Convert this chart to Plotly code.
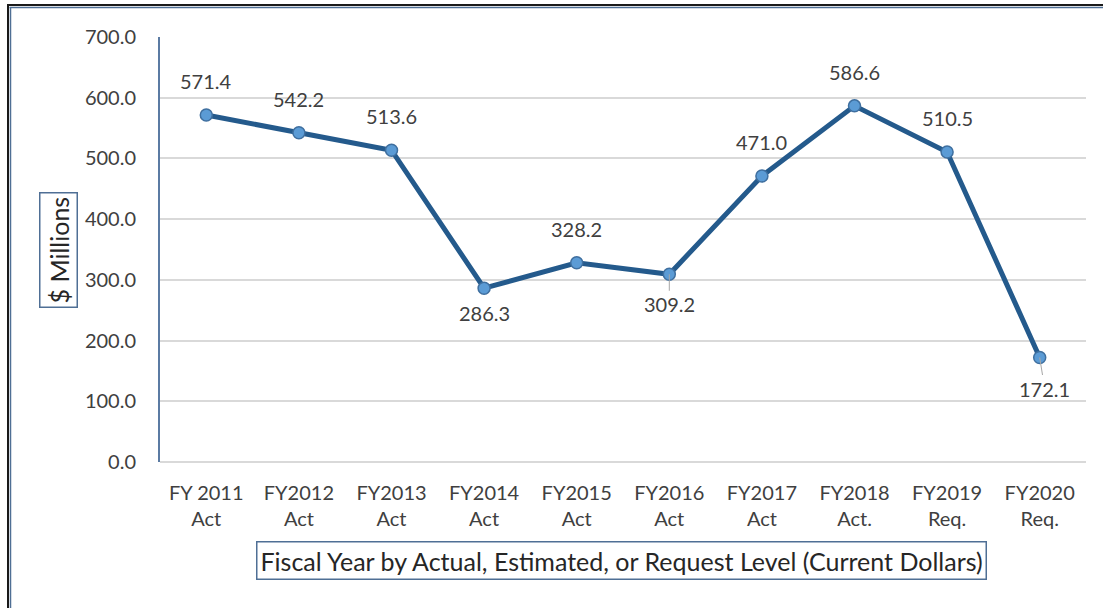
import plotly.graph_objects as go

categories = ["FY 2011<br>Act", "FY2012<br>Act", "FY2013<br>Act", "FY2014<br>Act", "FY2015<br>Act",
              "FY2016<br>Act", "FY2017<br>Act", "FY2018<br>Act.", "FY2019<br>Req.", "FY2020<br>Req."]
values = [571.4, 542.2, 513.6, 286.3, 328.2, 309.2, 471.0, 586.6, 510.5, 172.1]
y_ticks = [0, 100, 200, 300, 400, 500, 600, 700]
y_title = "$ Millions"
x_title = "Fiscal Year by Actual, Estimated, or Request Level (Current Dollars)"

W, H = 1103, 608
ML, MR, MT, MB = 160, 17, 37, 146
PW, PH = W - ML - MR, H - MT - MB

def px_x(p):
    return (p - ML) / PW

def px_y(p):
    return (H - MB - p) / PH

FONT = "Lato, 'Open Sans', sans-serif"
TXT = "#404040"
FS = 20

x_idx = list(range(len(categories)))

fig = go.Figure()
fig.add_trace(go.Scatter(
    x=x_idx, y=values, mode="lines+markers",
    line=dict(color="#245A8C", width=5),
    marker=dict(size=12, color="#5B9BD5", line=dict(color="#3F6F9F", width=1.5)),
    hoverinfo="skip", showlegend=False,
))

# data labels
label_side = ["up", "up", "up", "down", "up", "down", "up", "up", "up", "down"]
for i, (v, s) in enumerate(zip(values, label_side)):
    txt = f"{v:.1f}"
    if i == 5:
        fig.add_annotation(x=i, y=v, text=txt, showarrow=True, arrowhead=0, arrowwidth=1,
                           arrowcolor="#A6A6A6", ax=0, ay=30, standoff=0,
                           font=dict(family=FONT, size=FS, color=TXT))
    elif i == 9:
        fig.add_annotation(x=i, y=v, text=txt, showarrow=True, arrowhead=0, arrowwidth=1,
                           arrowcolor="#A6A6A6", ax=5, ay=31, standoff=0,
                           font=dict(family=FONT, size=FS, color=TXT))
    else:
        fig.add_annotation(x=i, y=v, text=txt, showarrow=False,
                           yshift=34 if s == "up" else -25,
                           font=dict(family=FONT, size=FS, color=TXT))

# axis titles as boxed annotations
fig.add_annotation(xref="paper", yref="paper", x=px_x(58), y=px_y(250), text=y_title,
                   xanchor="center", yanchor="middle",
                   textangle=-90, showarrow=False, bordercolor="#4F6F95", borderwidth=1.5,
                   borderpad=3, bgcolor="white", font=dict(family=FONT, size=25, color="#262626"))
fig.add_annotation(xref="paper", yref="paper", x=px_x(621), y=px_y(560), text=x_title,
                   xanchor="center", yanchor="middle",
                   showarrow=False, bordercolor="#4F6F95", borderwidth=1.5,
                   borderpad=3, bgcolor="white", font=dict(family=FONT, size=25, color="#262626"))

# outer frame (left and top)
fig.add_shape(type="line", xref="paper", yref="paper", x0=px_x(8), x1=px_x(8), y0=px_y(5), y1=px_y(610),
              line=dict(color="#1a1a1a", width=2))
fig.add_shape(type="line", xref="paper", yref="paper", x0=px_x(10.5), x1=px_x(10.5), y0=px_y(7), y1=px_y(610),
              line=dict(color="#4F6F95", width=1.5))
fig.add_shape(type="line", xref="paper", yref="paper", x0=px_x(7), x1=px_x(1110), y0=px_y(5), y1=px_y(5),
              line=dict(color="#1a1a1a", width=2))
fig.add_shape(type="line", xref="paper", yref="paper", x0=px_x(9.5), x1=px_x(1110), y0=px_y(7.5), y1=px_y(7.5),
              line=dict(color="#4F6F95", width=1.5))

fig.update_layout(
    width=W, height=H, autosize=False,
    margin=dict(l=ML, r=MR, t=MT, b=MB),
    paper_bgcolor="white", plot_bgcolor="white",
    font=dict(family=FONT, size=FS, color=TXT),
    xaxis=dict(range=[-0.5, len(categories) - 0.5], tickmode="array", tickvals=x_idx,
               ticktext=categories, showgrid=False, zeroline=False, showline=False,
               ticks="", ticklabelstandoff=17, tickfont=dict(family=FONT, size=FS, color=TXT),
               fixedrange=True),
    yaxis=dict(range=[0, 700], tickmode="array", tickvals=y_ticks,
               ticktext=[f"{t:.1f}" for t in y_ticks], showgrid=True, gridcolor="#D9D9D9",
               gridwidth=1.5, zeroline=True, zerolinecolor="#D9D9D9", zerolinewidth=1.5,
               showline=True, linecolor="#5B7BA3", linewidth=2, ticks="",
               ticklabelstandoff=18, tickfont=dict(family=FONT, size=FS, color=TXT),
               fixedrange=True),
)

fig.write_html("out.html", config={"displayModeBar": False},
               post_script="document.body.style.margin='0';document.body.style.overflow='hidden';")
